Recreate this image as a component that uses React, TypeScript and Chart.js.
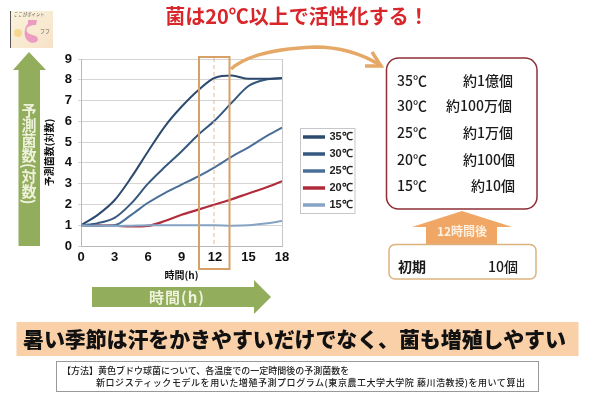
import React, { useEffect, useRef } from "react";
import { Chart, registerables } from "chart.js";

Chart.register(...registerables);

const seriesNames = ["35℃", "30℃", "25℃", "20℃", "15℃"];
const hours = [0, 1.5, 3, 4.5, 6, 7.5, 9, 10.5, 12, 13.5, 15, 16.5, 18];
const temp35 = [1, 1.5, 2.2, 3.3, 4.55, 5.75, 6.7, 7.5, 8.1, 8.2, 8.05, 8.05, 8.07];
const temp30 = [1, 1.1, 1.35, 2.05, 3.0, 3.8, 4.55, 5.35, 6.05, 6.9, 7.7, 8.0, 8.08];
const temp25 = [1, 0.98, 1.0, 1.5, 2.08, 2.55, 2.95, 3.35, 3.8, 4.3, 4.75, 5.25, 5.7];
const temp20 = [1, 0.99, 0.98, 0.94, 0.97, 1.2, 1.5, 1.75, 2.0, 2.25, 2.53, 2.8, 3.12];
const temp15 = [1, 0.97, 0.96, 0.98, 1, 1, 1, 1, 1, 0.98, 1.0, 1.08, 1.2];
const lineColors = ["#2d4a6e", "#35587f", "#4a6f98", "#b02c3c", "#85a3c4"];
const countRows = [
  ["35℃", "約1億個"],
  ["30℃", "約100万個"],
  ["25℃", "約1万個"],
  ["20℃", "約100個"],
  ["15℃", "約10個"],
];

const JP = '"Noto Sans CJK JP", sans-serif';

const pairs = (xs: number[], ys: number[]) => xs.map((x, i) => ({ x, y: ys[i] }));
const allTemps = [temp35, temp30, temp25, temp20, temp15];

export default function App() {
  const ref = useRef<HTMLCanvasElement>(null);
  useEffect(() => {
    const moveLegend = {
      id: "moveLegend",
      beforeDraw(chart: any) {
        const l = chart.legend;
        const w = l.width;
        const h = l.height;
        l.left = 298;
        l.top = 125.5;
        l.right = 298 + w;
        l.bottom = 125.5 + h;
      },
    };
    const chart = new Chart(ref.current!, {
      type: "line",
      data: {
        datasets: seriesNames.map((name, i) => ({
          label: name,
          data: pairs(hours, allTemps[i]),
          borderColor: lineColors[i],
          backgroundColor: lineColors[i],
          borderWidth: i === 3 ? 2.2 : 2,
          pointRadius: 0,
          cubicInterpolationMode: "monotone" as const,
          order: i === 4 ? -1 : i,
        })),
      },
      options: {
        animation: false,
        responsive: false,
        layout: { padding: { left: 43, right: 318, top: 59, bottom: 124 } },
        plugins: {
          tooltip: { enabled: false },
          legend: {
            position: "chartArea" as any,
            align: "start",
            labels: {
              boxWidth: 20,
              boxHeight: 1.5,
              padding: 6,
              color: "#222",
              font: { family: '"Liberation Sans", sans-serif', size: 11, weight: "bold" },
              sort: (a: any, b: any) => a.datasetIndex - b.datasetIndex,
            },
          },
        },
        scales: {
          x: {
            type: "linear",
            min: 0,
            max: 18,
            afterFit: (s: any) => { s.height = 35; },
            title: {
              display: true,
              text: "時間(h)",
              color: "#111",
              padding: { top: 1, bottom: 0 },
              font: { family: JP, size: 10, weight: "bold" },
            },
            ticks: {
              stepSize: 3,
              color: "#111",
              padding: 4,
              maxRotation: 0,
              font: { family: '"Liberation Sans", sans-serif', size: 13, weight: "bold" },
            },
            border: { color: "#b8b8b8" },
            grid: {
              drawTicks: false,
              color: (c: any) => (c.tick && c.tick.value === 18 ? "#c8c8c8" : "rgba(0,0,0,0)"),
            },
          },
          y: {
            min: 0,
            max: 9,
            afterFit: (s: any) => { s.width = 38; },
            title: {
              display: true,
              text: "予測菌数(対数)",
              color: "#111",
              padding: 0,
              font: { family: JP, size: 10, weight: "bold" },
            },
            ticks: {
              stepSize: 1,
              color: "#111",
              padding: 6,
              font: { family: '"Liberation Sans", sans-serif', size: 13, weight: "bold" },
            },
            border: { color: "#b8b8b8" },
            grid: { color: "#d4d4d4", tickLength: 3 },
          },
        },
      },
      plugins: [moveLegend],
    } as any);
    return () => chart.destroy();
  }, []);

  const rightRowY = [81, 106, 133, 160, 186];
  const rightRowEnd = [513, 512, 513, 515, 515];
  return (
    <div style={{ position: "absolute", left: 0, top: 0, width: 600, height: 405, background: "#fff", overflow: "hidden" }}>
      <canvas ref={ref} width={600} height={405} style={{ position: "absolute", left: 0, top: 0 }} />
      <svg width={600} height={405} style={{ position: "absolute", left: 0, top: 0 }} fontFamily={JP}>
        <defs>
          <linearGradient id="thumb" x1="0" y1="0" x2="1" y2="1">
            <stop offset="0" stopColor="#fbf3dc" />
            <stop offset="1" stopColor="#f6e2c8" />
          </linearGradient>
        </defs>
        {/* thumbnail */}
        <rect x={10} y={11} width={43} height={37} fill="url(#thumb)" />
        <line x1={10.5} y1={11} x2={10.5} y2={48} stroke="#555" strokeWidth={1} />
        <text x={14} y={15.5} fontSize={4.4} fill="#555">ここがポイント</text>
        <path d="M28 20 L37 20 L36 25 C30 25 25 27 27 32 C30 36 37 34 38 39 C38 43 31 44 28 41 C23 37 24 27 28 24 Z" fill="#ec9cc0" />
        <text x={40} y={33} fontSize={5} fill="#666">フフ</text>
        <circle cx={18} cy={33} r={4} fill="#f5d890" />

        {/* title */}
        <text x={297} y={24} textAnchor="middle" fontSize={20} fontWeight={700} fill="#d9262b">菌は20℃以上で活性化する！</text>

        {/* up arrow */}
        <polygon points="29,52 46,70 40,70 40,246 18.5,246 18.5,70 13,70" fill="#92ad5c" />
        <text x={29} y={103} fontSize={15} fontWeight={700} fill="#eef2dc" style={{ writingMode: "vertical-rl" }} textAnchor="start">予測菌数(対数)</text>

        {/* right arrow */}
        <polygon points="92,287 254,287 254,280 271,297 254,314 254,307 92,307" fill="#92ad5c" />
        <text x={177} y={303} textAnchor="middle" fontSize={15} fontWeight={700} letterSpacing={1} fill="#eef2dc">時間(h)</text>

        {/* 12h highlight */}
        <line x1={214} y1={58} x2={214} y2={245} stroke="#e8b890" strokeWidth={1} strokeDasharray="4 3" />
        <rect x={199} y={57} width={30.5} height={212} fill="none" stroke="#d8a066" strokeWidth={2} />

        {/* curved arrow */}
        <path d="M231 69 C250 52 290 48 315 47 C340 47 362 54 380 65" fill="none" stroke="#e6a866" strokeWidth={3.5} />
        <path d="M372 52 L381 66 L365 66" fill="none" stroke="#e6a866" strokeWidth={3.5} />

        {/* legend border */}
        <rect x={300.5} y={128.5} width={54.5} height={85} fill="none" stroke="#c4c8cc" strokeWidth={1} />

        {/* counts box */}
        <rect x={386.5} y={58} width={150.5} height={151} rx={12} fill="#fff" stroke="#8e2f38" strokeWidth={1.5} />
        {countRows.map((r, i) => (
          <g key={r[0]} fontSize={14} fontWeight={500} fill="#1a1a1a">
            <text x={397} y={rightRowY[i] + 5}>{r[0]}</text>
            <text x={rightRowEnd[i]} y={rightRowY[i] + 5} textAnchor="end">{r[1]}</text>
          </g>
        ))}

        {/* orange arrow */}
        <polygon points="462,211 512,227 497,227 497,245 426,245 426,227 412,227" fill="#f0a766" />
        <text x={462} y={236} textAnchor="middle" fontSize={12} fontWeight={700} fill="#fdf0e0">12時間後</text>
        <rect x={389} y={244.5} width={147} height={34.5} rx={6} fill="#fff" stroke="#dcb27e" strokeWidth={1.5} />
        <text x={398} y={272} fontSize={14} fontWeight={700} fill="#1a1a1a">初期</text>
        <text x={518} y={272} textAnchor="end" fontSize={14} fontWeight={500} fill="#1a1a1a">10個</text>

        {/* band */}
        <rect x={16.5} y={322} width={562} height={34} fill="#f9d0a8" />
        <text x={23} y={347} fontSize={21} fontWeight={900} fill="#111" textLength={543}>暑い季節は汗をかきやすいだけでなく、菌も増殖しやすい</text>

        {/* method box */}
        <rect x={56.5} y={361.5} width={482} height={30} fill="#fff" stroke="#999" strokeWidth={1} />
        <text x={62} y={374} fontSize={9} fontWeight={500} fill="#222">【方法】黄色ブドウ球菌について、各温度での一定時間後の予測菌数を</text>
        <text x={96} y={386} fontSize={9} fontWeight={500} fill="#222" textLength={429}>新ロジスティックモデルを用いた増殖予測プログラム(東京農工大学大学院 藤川浩教授)を用いて算出</text>
      </svg>
    </div>
  );
}
